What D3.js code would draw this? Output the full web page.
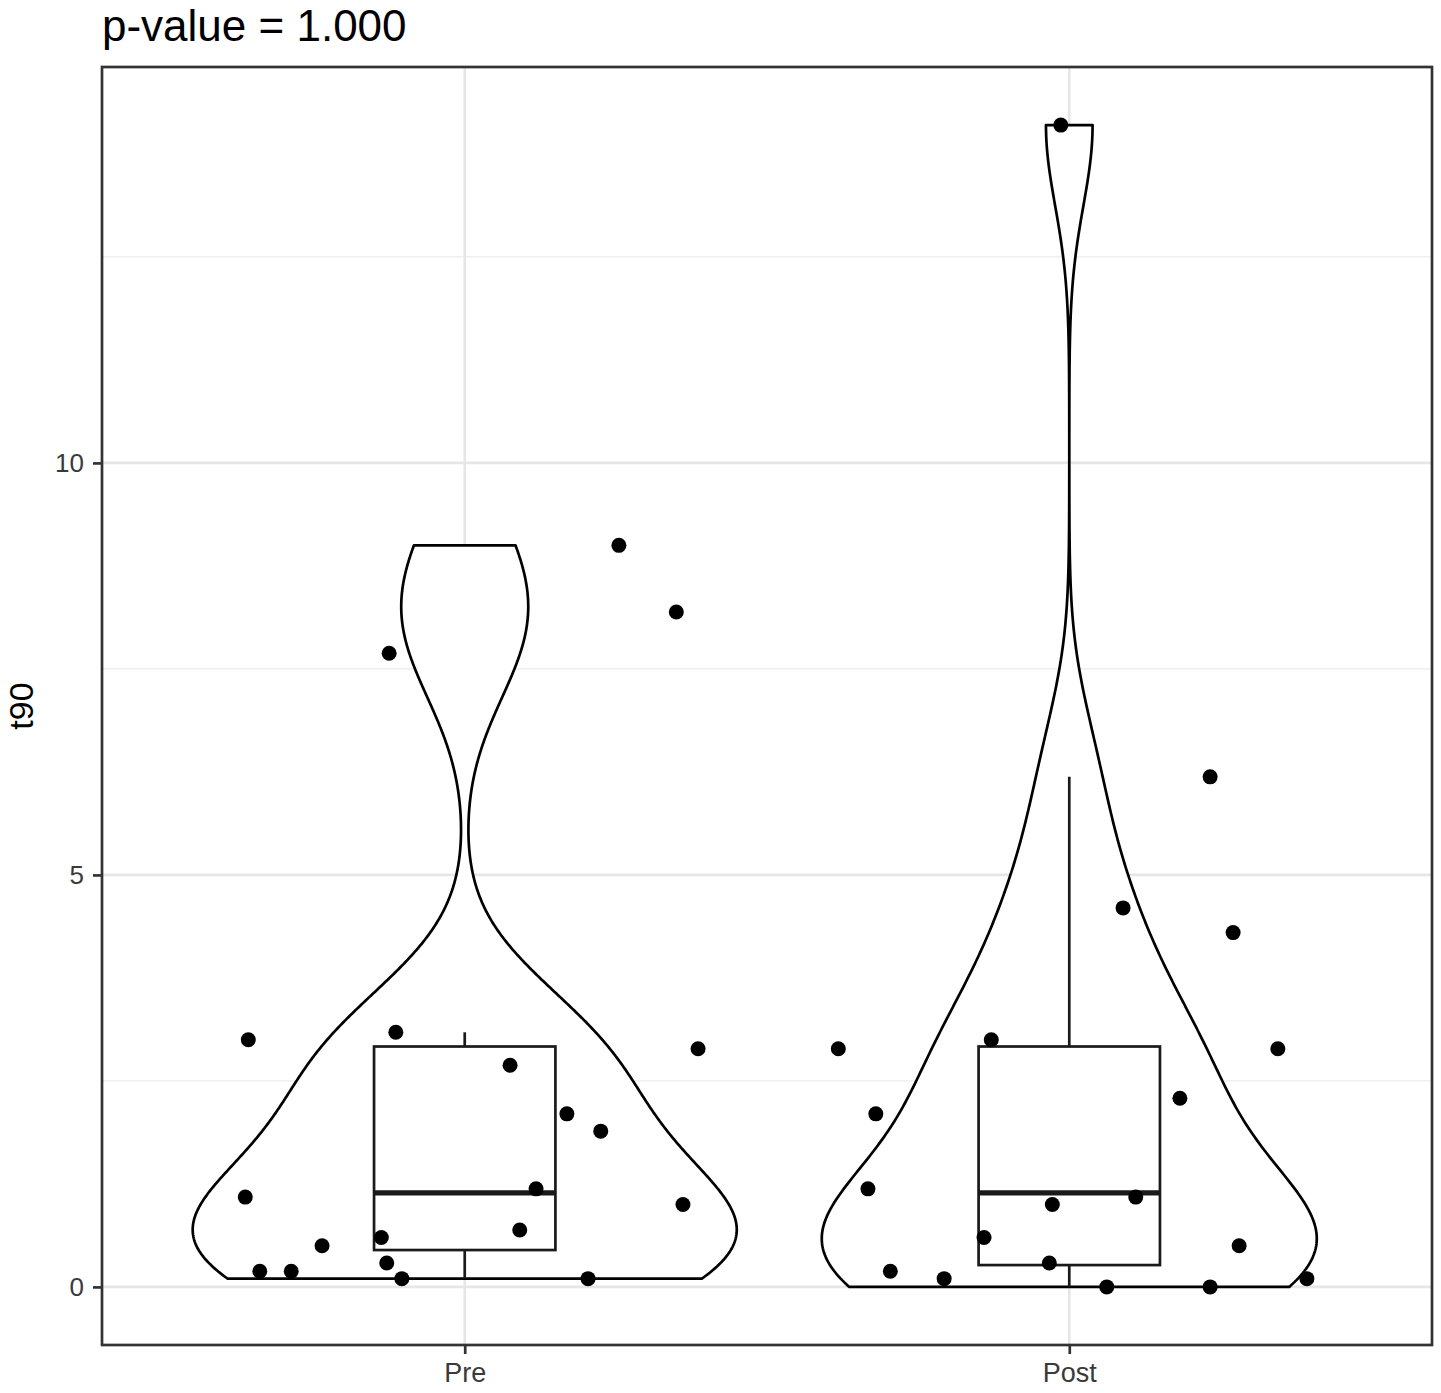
<!DOCTYPE html>
<html>
<head>
<meta charset="utf-8">
<script src="https://cdn.jsdelivr.net/npm/d3@7"></script>
<style>
    body { margin: 0; background: white; }
    text { font-family: "Liberation Sans", Arial, sans-serif; }
</style>
</head>
<body>
<div id="violin_chart"></div>
<script>
// groups on the x axis
const groups = ["Pre", "Post"]

// t90 values, one array per group
const preValues = [3.0, 1.09, 0.19, 0.19, 0.5, 7.69, 3.09, 0.6, 0.29, 0.1,
    2.69, 1.19, 0.69, 2.1, 1.89, 0.1, 9.0, 8.19, 2.89, 1.0]
const postValues = [14.1, 6.19, 4.6, 4.3, 2.89, 3.0, 2.89, 2.1, 2.29, 1.19,
    1.09, 1.0, 0.6, 0.5, 0.29, 0.19, 0.1, 0.1, 0.0, 0.0]

// horizontal jitter of each point (in category units)
const preJitter = [-0.358, -0.363, -0.339, -0.287, -0.236, -0.125, -0.114, -0.138, -0.129, -0.104,
    0.075, 0.118, 0.091, 0.169, 0.225, 0.204, 0.255, 0.350, 0.386, 0.361]
const postJitter = [-0.014, 0.233, 0.089, 0.271, -0.382, -0.129, 0.345, -0.320, 0.183, -0.333,
    0.110, -0.028, -0.141, 0.281, -0.033, -0.296, -0.207, 0.393, 0.062, 0.233]

// tick values for the y axis
const yMajorTicks = [0, 5, 10]
const yMinorTicks = [2.5, 7.5, 12.5]

const titleText = "p-value = 1.000"
const yTitle = "t90"

// dimensions of the whole picture and of the panel
const width = 1441
const height = 1393
const panel = { left: 102, right: 1432, top: 67, bottom: 1345 }
const lineW = 2.7

const svg = d3.select("#violin_chart").append("svg")
    .attr("width", width)
    .attr("height", height)

const series = [
    { name: groups[0], values: preValues, jitter: preJitter, index: 1 },
    { name: groups[1], values: postValues, jitter: postJitter, index: 2 }
]

// y scale with 5% expansion like ggplot
const allValues = preValues.concat(postValues)
const yExtent = d3.extent(allValues)
const yPad = (yExtent[1] - yExtent[0]) * 0.05
const y = d3.scaleLinear()
    .domain([yExtent[0] - yPad, yExtent[1] + yPad])
    .range([panel.bottom, panel.top])

// discrete x scale, 0.6 units of padding on each side
const x = d3.scaleLinear()
    .domain([0.4, groups.length + 0.6])
    .range([panel.left, panel.right])

// gaussian kernel density with the nrd0 bandwidth
function bandwidthNrd0(values) {
    const sorted = values.slice().sort(d3.ascending)
    const iqr = d3.quantile(sorted, 0.75) - d3.quantile(sorted, 0.25)
    const lo = Math.min(d3.deviation(values), iqr / 1.34)
    return 0.9 * lo * Math.pow(values.length, -0.2)
}

function density(values, nPoints) {
    const bw = bandwidthNrd0(values)
    const [mn, mx] = d3.extent(values)
    const out = []
    for (let i = 0; i < nPoints; i++) {
        const v = mn + (mx - mn) * i / (nPoints - 1)
        let s = 0
        values.forEach(function(d) {
            const z = (v - d) / bw
            s += Math.exp(-0.5 * z * z)
        })
        out.push({ v: v, d: s / (values.length * bw * Math.sqrt(2 * Math.PI)) })
    }
    return out
}

series.forEach(function(s) {
    s.dens = density(s.values, 512)
    const sorted = s.values.slice().sort(d3.ascending)
    const q1 = d3.quantile(sorted, 0.25)
    const q3 = d3.quantile(sorted, 0.75)
    const iqr = q3 - q1
    s.box = {
        q1: q1,
        med: d3.quantile(sorted, 0.5),
        q3: q3,
        lowW: d3.min(sorted.filter(function(d) { return d >= q1 - 1.5 * iqr })),
        highW: d3.max(sorted.filter(function(d) { return d <= q3 + 1.5 * iqr }))
    }
})

// scale "area": all violins share the same max density
const maxDens = d3.max(series, function(s) { return d3.max(s.dens, function(d) { return d.d }) })
const violinHalf = 0.45

// panel background grid
const grid = svg.append("g")
grid.selectAll(".minor")
    .data(yMinorTicks)
    .enter()
    .append("line")
        .attr("x1", panel.left).attr("x2", panel.right)
        .attr("y1", function(d) { return y(d) }).attr("y2", function(d) { return y(d) })
        .attr("stroke", "#EBEBEB")
        .attr("stroke-width", 1.3)
grid.selectAll(".majorY")
    .data(yMajorTicks)
    .enter()
    .append("line")
        .attr("x1", panel.left).attr("x2", panel.right)
        .attr("y1", function(d) { return y(d) }).attr("y2", function(d) { return y(d) })
        .attr("stroke", "#E6E6E6")
        .attr("stroke-width", 2.6)
grid.selectAll(".majorX")
    .data(series)
    .enter()
    .append("line")
        .attr("y1", panel.top).attr("y2", panel.bottom)
        .attr("x1", function(d) { return x(d.index) }).attr("x2", function(d) { return x(d.index) })
        .attr("stroke", "#E6E6E6")
        .attr("stroke-width", 2.6)

// violins
const unit = x(1) - x(0)
svg.append("g")
    .selectAll("path")
    .data(series)
    .enter()
    .append("path")
        .attr("d", function(s) {
            const cx = x(s.index)
            const left = s.dens.map(function(d) { return [cx - d.d / maxDens * violinHalf * unit, y(d.v)] })
            const right = s.dens.slice().reverse().map(function(d) { return [cx + d.d / maxDens * violinHalf * unit, y(d.v)] })
            return d3.line()(left.concat(right)) + "Z"
        })
        .attr("fill", "white")
        .attr("stroke", "black")
        .attr("stroke-width", lineW)
        .attr("stroke-linejoin", "round")

// boxplots
const boxHalf = 0.15
const boxes = svg.append("g")
    .selectAll("g")
    .data(series)
    .enter()
    .append("g")
boxes.append("line")
    .attr("x1", function(s) { return x(s.index) }).attr("x2", function(s) { return x(s.index) })
    .attr("y1", function(s) { return y(s.box.highW) }).attr("y2", function(s) { return y(s.box.q3) })
    .attr("stroke", "#1a1a1a").attr("stroke-width", lineW)
boxes.append("line")
    .attr("x1", function(s) { return x(s.index) }).attr("x2", function(s) { return x(s.index) })
    .attr("y1", function(s) { return y(s.box.q1) }).attr("y2", function(s) { return y(s.box.lowW) })
    .attr("stroke", "#1a1a1a").attr("stroke-width", lineW)
boxes.append("rect")
    .attr("x", function(s) { return x(s.index - boxHalf) })
    .attr("width", function(s) { return x(s.index + boxHalf) - x(s.index - boxHalf) })
    .attr("y", function(s) { return y(s.box.q3) })
    .attr("height", function(s) { return y(s.box.q1) - y(s.box.q3) })
    .attr("fill", "white")
    .attr("stroke", "#1a1a1a")
    .attr("stroke-width", lineW)
boxes.append("line")
    .attr("x1", function(s) { return x(s.index - boxHalf) }).attr("x2", function(s) { return x(s.index + boxHalf) })
    .attr("y1", function(s) { return y(s.box.med) }).attr("y2", function(s) { return y(s.box.med) })
    .attr("stroke", "#1a1a1a").attr("stroke-width", 5.2)

// jittered points
series.forEach(function(s) {
    svg.append("g")
        .selectAll("circle")
        .data(s.values)
        .enter()
        .append("circle")
            .attr("cx", function(d, i) { return x(s.index + s.jitter[i]) })
            .attr("cy", function(d) { return y(d) })
            .attr("r", 7.5)
            .attr("fill", "black")
})

// panel border
svg.append("rect")
    .attr("x", panel.left).attr("y", panel.top)
    .attr("width", panel.right - panel.left)
    .attr("height", panel.bottom - panel.top)
    .attr("fill", "none")
    .attr("stroke", "#333333")
    .attr("stroke-width", lineW)

// y axis
const yAxis = svg.append("g")
    .attr("transform", "translate(" + panel.left + ",0)")
    .call(d3.axisLeft(y).tickValues(yMajorTicks).tickSize(9).tickPadding(9))
yAxis.select(".domain").remove()
yAxis.selectAll(".tick line").attr("stroke", "#333333").attr("stroke-width", lineW)
yAxis.selectAll(".tick text")
    .style("font-family", "'Liberation Sans', Arial, sans-serif")
    .style("font-size", "26px")
    .attr("fill", "#3A3A3A")

// x axis
const xAxis = svg.append("g")
    .attr("transform", "translate(0," + panel.bottom + ")")
    .call(d3.axisBottom(x).tickValues([1, 2]).tickFormat(function(d) { return groups[d - 1] }).tickSize(9).tickPadding(9))
xAxis.select(".domain").remove()
xAxis.selectAll(".tick line").attr("stroke", "#333333").attr("stroke-width", lineW)
xAxis.selectAll(".tick text")
    .style("font-family", "'Liberation Sans', Arial, sans-serif")
    .style("font-size", "27px")
    .attr("fill", "#3A3A3A")

// y axis title
svg.append("text")
    .attr("transform", "translate(33," + ((panel.top + panel.bottom) / 2) + ") rotate(-90)")
    .attr("text-anchor", "middle")
    .style("font-size", "34px")
    .attr("fill", "black")
    .text(yTitle)

// plot title
svg.append("text")
    .attr("x", panel.left)
    .attr("y", 41)
    .style("font-size", "44px")
    .attr("fill", "black")
    .text(titleText)
</script>
</body>
</html>
